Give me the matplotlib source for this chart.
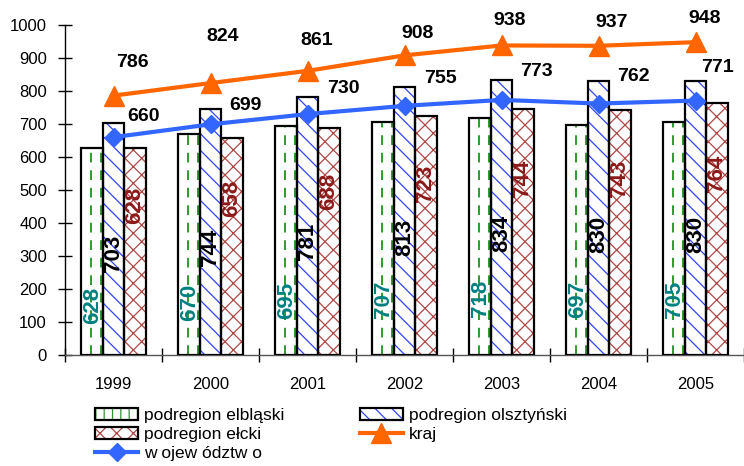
import numpy as np
import matplotlib
matplotlib.use("Agg")
import matplotlib.pyplot as plt
from matplotlib.patches import Patch
from matplotlib.legend_handler import HandlerTuple

plt.rcParams['font.family'] = ['Liberation Sans', 'DejaVu Sans']
plt.rcParams['hatch.linewidth'] = 0.9

years = ['1999', '2000', '2001', '2002', '2003', '2004', '2005']
elblaski = [628, 670, 695, 707, 718, 697, 705]
olsztynski = [703, 744, 781, 813, 834, 830, 830]
elcki = [628, 658, 688, 723, 744, 743, 764]
kraj = [786, 824, 861, 908, 938, 937, 948]
wojewodztwo = [660, 699, 730, 755, 773, 762, 771]

series_names = ['podregion elbląski', 'podregion olsztyński', 'podregion ełcki']
line_names = ['kraj', 'w ojew ództw o']

# label offsets in pixels (dx, dy), hand placed like in the original
kraj_offsets = [(19, 33), (12, 47), (9, 30), (13, 22), (8, 25), (13, 23), (9, 24)]
woj_offsets = [(30, 21), (35, 19), (36, 26), (36, 27), (35, 28), (35, 27), (22, 33)]

fig = plt.figure(figsize=(7.44, 4.66), dpi=100)
ax = fig.add_axes([65 / 744, 1 - 355 / 466, 1 - 65 / 744, 330 / 466])

x = np.arange(len(years))
w = 0.22

bar_styles = [
    # values, offset, hatch, hatch colour, text colour, label height fraction
    (elblaski, -w, '', '#2E9A2E', '#008080', 0.24),
    (olsztynski, 0, '\\\\', '#3344FF', 'black', 0.44),
    (elcki, w, 'xx', '#B04848', '#8B1A1A', 0.72),
]
legend_hatch = ['||', '\\\\', 'xx']

handles = []
for (vals, off, hatch, hcol, tcol, frac), lh in zip(bar_styles, legend_hatch):
    hb = ax.bar(x + off, vals, w, color='white', edgecolor=hcol, hatch=hatch,
                linewidth=0, zorder=2)
    ax.bar(x + off, vals, w, color='none', edgecolor='black',
           linewidth=1.6, zorder=3)
    if hatch == '':
        # dashed vertical stripes for elblaski
        for p in hb.patches:
            x0, wd, h = p.get_x(), p.get_width(), p.get_height()
            ax.vlines([x0 + wd * 0.46, x0 + wd * 0.92], 0, h, colors=hcol,
                      linestyles=(0, (5, 4)), linewidth=1.4, zorder=2.5)
    for xi, v in zip(x + off, vals):
        ax.text(xi, v * frac, str(v), rotation=90, ha='center', va='center',
                color=tcol, fontsize=16, fontweight='bold', zorder=4)
    handles.append((Patch(facecolor='white', edgecolor=hcol, hatch=lh, linewidth=0),
                    Patch(facecolor='none', edgecolor='black', linewidth=1.6)))

l_kraj, = ax.plot(x, kraj, color='#FF6600', linewidth=3, marker='^',
                  markersize=15, zorder=5)
l_woj, = ax.plot(x, wojewodztwo, color='#3366FF', linewidth=3, marker='D',
                 markersize=9, zorder=5)

for xi, v, (dx, dy) in zip(x, kraj, kraj_offsets):
    ax.annotate(str(v), (xi, v), xytext=(dx, dy), textcoords='offset pixels',
                ha='center', va='center', fontsize=14, fontweight='bold')
for xi, v, (dx, dy) in zip(x, wojewodztwo, woj_offsets):
    ax.annotate(str(v), (xi, v), xytext=(dx, dy), textcoords='offset pixels',
                ha='center', va='center', fontsize=14, fontweight='bold')

ax.set_xlim(-0.5, len(years) - 0.5)
ax.set_ylim(0, 1000)
ax.set_yticks(range(0, 1001, 100))
ax.set_xticks(x)
ax.set_xticklabels(years)
ax.set_xticks(np.arange(-0.5, len(years), 1), minor=True)
ax.tick_params(axis='x', which='major', length=0, pad=16, labelsize=12)
ax.tick_params(axis='x', which='minor', direction='inout', length=10, width=1)
ax.tick_params(axis='y', direction='inout', length=10, width=1, pad=8, labelsize=12)
for s in ['top', 'right']:
    ax.spines[s].set_visible(False)
ax.spines['left'].set_linewidth(1)
ax.spines['bottom'].set_color('#555555')
ax.spines['bottom'].set_linewidth(1)

# legend filled column-first: elbląski, ełcki, województwo | olsztyński, kraj
leg_handles = [handles[0], handles[2], l_woj, handles[1], l_kraj]
leg_labels = [series_names[0], series_names[2], line_names[1], series_names[1], line_names[0]]
fig.legend(leg_handles, leg_labels, loc='upper left',
           bbox_to_anchor=(95 / 744, 1 - 408 / 466), ncol=2, frameon=False,
           fontsize=12.5, handlelength=2.5, handleheight=0.7, handletextpad=0.35,
           columnspacing=4.3, labelspacing=0.22, borderpad=0, borderaxespad=0,
           handler_map={tuple: HandlerTuple(ndivide=1, pad=0)})

fig.savefig('out.png', dpi=100)
